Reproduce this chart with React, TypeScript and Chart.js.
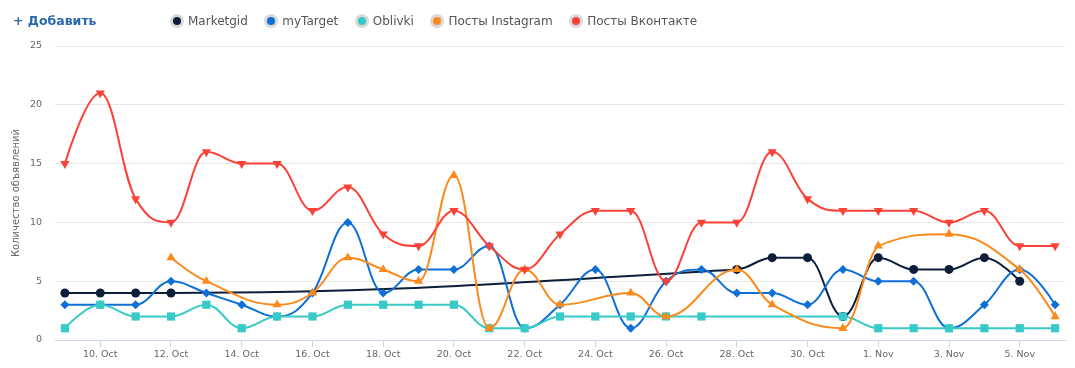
import React, { useEffect, useRef } from 'react';
import { Chart, registerables } from 'chart.js';

Chart.register(...registerables);

const categories = [
  '9. Oct', '10. Oct', '11. Oct', '12. Oct', '13. Oct', '14. Oct', '15. Oct', '16. Oct',
  '17. Oct', '18. Oct', '19. Oct', '20. Oct', '21. Oct', '22. Oct', '23. Oct', '24. Oct',
  '25. Oct', '26. Oct', '27. Oct', '28. Oct', '29. Oct', '30. Oct', '31. Oct', '1. Nov',
  '2. Nov', '3. Nov', '4. Nov', '5. Nov', '6. Nov',
];

const tickIndices = [1, 3, 5, 7, 9, 11, 13, 15, 17, 19, 21, 23, 25, 27];

const marketgid = [4, 4, 4, 4, null, null, null, null, null, null, null, null, null, null, null, null, null, null, null, 6, 7, 7, 2, 7, 6, 6, 7, 5, null];
const myTarget = [3, 3, 3, 5, 4, 3, 2, 4, 10, 4, 6, 6, 8, 1, 3, 6, 1, 5, 6, 4, 4, 3, 6, 5, 5, 1, 3, 6, 3];
const oblivki = [1, 3, 2, 2, 3, 1, 2, 2, 3, 3, 3, 3, 1, 1, 2, 2, 2, 2, 2, null, null, null, 2, 1, 1, 1, 1, 1, 1];
const instagram = [null, null, null, 7, 5, null, 3, 4, 7, 6, 5, 14, 1, 6, 3, null, 4, 2, null, 6, 3, null, 1, 8, null, 9, null, 6, 2];
const vkontakte = [15, 21, 12, 10, 16, 15, 15, 11, 13, 9, 8, 11, 8, 6, 9, 11, 11, 5, 10, 10, 16, 12, 11, 11, 11, 10, 11, 8, 8];

const seriesNames = ['Marketgid', 'myTarget', 'Oblivki', 'Посты Instagram', 'Посты Вконтакте'];
const seriesColors = ['#0c1e3a', '#0e6fd6', '#38cac8', '#fb8a1c', '#fb4239'];

const FONT = "'DejaVu Sans', Verdana, sans-serif";

const toPoints = (arr: (number | null)[]) => arr.map((v, i) => ({ x: i, y: v }));

// Spline control points computed the way Highcharts' "spline" series does it.
const splinePlugin = {
  id: 'hcSpline',
  beforeDatasetDraw(chart: any, args: any) {
    const meta = chart.getDatasetMeta(args.index);
    const line = meta.dataset;
    const pts = meta.data.filter((p: any) => !p.skip);
    const smoothing = 1.5;
    const denom = smoothing + 1;
    for (let i = 0; i < pts.length; i++) {
      const p = pts[i];
      const prev = pts[i - 1];
      const next = pts[i + 1];
      let lcx = p.x, lcy = p.y, rcx = p.x, rcy = p.y;
      if (prev && next) {
        lcx = (smoothing * p.x + prev.x) / denom;
        lcy = (smoothing * p.y + prev.y) / denom;
        rcx = (smoothing * p.x + next.x) / denom;
        rcy = (smoothing * p.y + next.y) / denom;
        let corr = 0;
        if (rcx !== lcx) corr = ((rcy - lcy) * (rcx - p.x)) / (rcx - lcx) + p.y - rcy;
        lcy += corr;
        rcy += corr;
        if (lcy > prev.y && lcy > p.y) {
          lcy = Math.max(prev.y, p.y);
          rcy = 2 * p.y - lcy;
        } else if (lcy < prev.y && lcy < p.y) {
          lcy = Math.min(prev.y, p.y);
          rcy = 2 * p.y - lcy;
        }
        if (rcy > next.y && rcy > p.y) {
          rcy = Math.max(next.y, p.y);
          lcy = 2 * p.y - rcy;
        } else if (rcy < next.y && rcy < p.y) {
          rcy = Math.min(next.y, p.y);
          lcy = 2 * p.y - rcy;
        }
      }
      p.cp1x = lcx;
      p.cp1y = lcy;
      p.cp2x = rcx;
      p.cp2y = rcy;
    }
    line._pointsUpdated = true;
    line._path = undefined;
  },
};

export default function App() {
  const canvasRef = useRef<HTMLCanvasElement | null>(null);

  useEffect(() => {
    document.body.style.margin = '0';
    const canvas = canvasRef.current;
    if (!canvas) return;
    const mk = (idx: number, data: (number | null)[], pointStyle: string, radius: number, order: number, rotation = 0) => ({
      label: seriesNames[idx],
      data: toPoints(data),
      borderColor: seriesColors[idx],
      backgroundColor: seriesColors[idx],
      pointBackgroundColor: seriesColors[idx],
      pointBorderColor: seriesColors[idx],
      pointBorderWidth: 0,
      pointStyle,
      pointRadius: radius,
      pointRotation: rotation,
      borderWidth: 2,
      tension: 0.4,
      spanGaps: true,
      fill: false,
      order,
    });

    const chart = new Chart(canvas, {
      type: 'line',
      data: {
        datasets: [
          mk(0, marketgid, 'circle', 4.5, 5),
          mk(1, myTarget, 'rectRot', 4.5, 4),
          mk(2, oblivki, 'rect', 5.8, 3),
          mk(3, instagram, 'triangle', 5.3, 2),
          mk(4, vkontakte, 'triangle', 5.3, 1, 180),
        ] as any,
      },
      plugins: [splinePlugin],
      options: {
        animation: false,
        responsive: false,
        maintainAspectRatio: false,
        layout: { padding: { top: 46, right: 10, bottom: 0, left: 0 } },
        plugins: {
          legend: { display: false },
          tooltip: { enabled: false },
        },
        scales: {
          x: {
            type: 'linear',
            min: -0.28,
            max: 28.28,
            afterBuildTicks: (scale: any) => {
              scale.ticks = tickIndices.map((v) => ({ value: v }));
            },
            afterFit: (scale: any) => {
              scale.height = 28;
            },
            ticks: {
              autoSkip: false,
              maxRotation: 0,
              color: '#666666',
              font: { family: FONT, size: 9.5 },
              padding: 2,
              callback: (v: any) => categories[Math.round(Number(v))] ?? '',
            },
            grid: { drawOnChartArea: false, tickLength: 7, color: '#ccd6eb' },
            border: { color: '#ccd6eb' },
          },
          y: {
            min: 0,
            max: 25,
            afterFit: (scale: any) => {
              scale.width = 55;
            },
            ticks: {
              stepSize: 5,
              color: '#666666',
              font: { family: FONT, size: 9.5 },
              padding: 13,
            },
            grid: { color: '#e6e6e6', drawTicks: false },
            border: { display: false },
            title: {
              display: true,
              text: 'Количество объявлений',
              color: '#666666',
              font: { family: FONT, size: 10 },
              padding: { top: 10, bottom: 0 },
            },
          },
        },
      } as any,
    });
    return () => chart.destroy();
  }, []);

  return (
    <div style={{ position: 'absolute', left: 0, top: 0, width: 1075, height: 368, background: '#fff' }}>
      <canvas ref={canvasRef} width={1075} height={368} style={{ position: 'absolute', left: 0, top: 0 }} />
      <div
        style={{
          position: 'absolute', left: 13, top: 12, height: 18, lineHeight: '18px',
          fontFamily: FONT, fontWeight: 'bold', fontSize: 12.5, color: '#2a69ab', whiteSpace: 'nowrap',
        }}
      >
        + Добавить
      </div>
      <div style={{ position: 'absolute', left: 170, top: 12, height: 18, display: 'flex', alignItems: 'center' }}>
        {seriesNames.map((name, i) => (
          <div key={name} style={{ display: 'flex', alignItems: 'center', marginRight: 16.5 }}>
            <span
              style={{
                width: 14, height: 14, borderRadius: 7, background: '#d9d9d9',
                display: 'flex', alignItems: 'center', justifyContent: 'center', marginRight: 4,
              }}
            >
              <span style={{ width: 8, height: 8, borderRadius: 4, background: seriesColors[i] }} />
            </span>
            <span style={{ fontFamily: FONT, fontSize: 12, color: '#555555', whiteSpace: 'nowrap' }}>{name}</span>
          </div>
        ))}
      </div>
    </div>
  );
}
